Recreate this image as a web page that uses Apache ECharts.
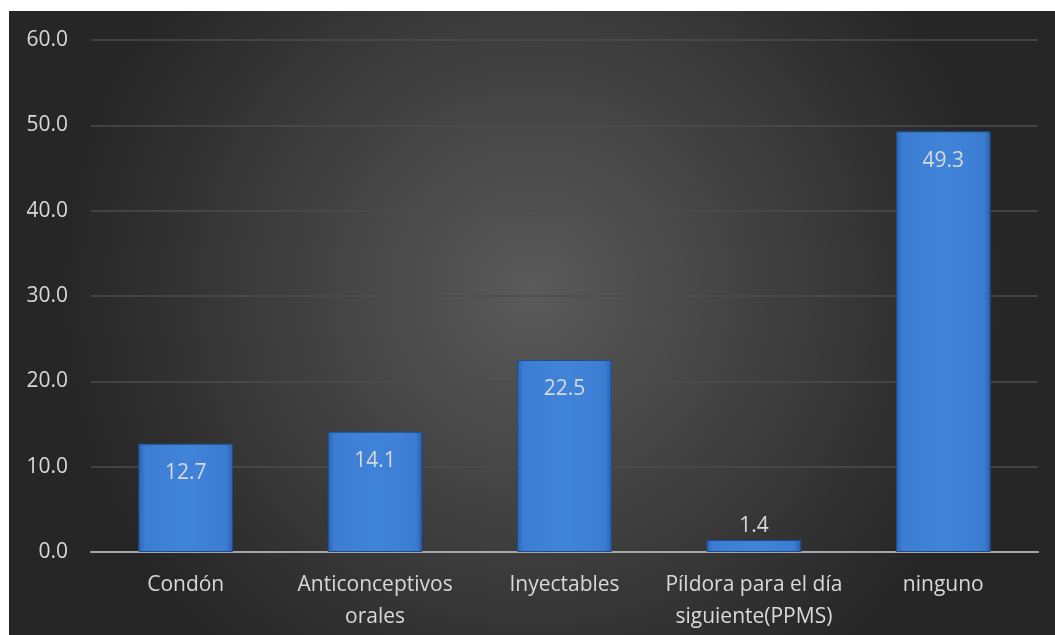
<!DOCTYPE html>
<html><head><meta charset="utf-8">
<script src="https://cdn.jsdelivr.net/npm/echarts@6/dist/echarts.min.js"></script>
<style>
html,body{margin:0;padding:0;background:#fff;}
#c{position:absolute;left:9px;top:11px;width:1046px;height:624px;}
</style></head><body>
<div id="c"></div>
<script>
const categories = ["Condón", "Anticonceptivos\norales", "Inyectables", "Píldora para el día\nsiguiente(PPMS)", "ninguno"];
const values = [12.7, 14.1, 22.5, 1.4, 49.3];
const yTicks = [0, 10, 20, 30, 40, 50, 60];

const chart = echarts.init(document.getElementById('c'));
const font = 'Open Sans, Liberation Sans, sans-serif';
const barColor = new echarts.graphic.LinearGradient(0,0,1,0,[
  {offset:0,color:'#2c65b3'},{offset:0.07,color:'#3b7dd3'},{offset:0.5,color:'#4084d9'},{offset:0.93,color:'#3b7dd3'},{offset:1,color:'#2a5ea8'}]);
chart.setOption({
  backgroundColor: new echarts.graphic.RadialGradient(0.5,0.45,0.75,[
    {offset:0,color:'#5a5a5a'},{offset:1,color:'#262626'}]),
  grid:{left:82,right:17,top:29,bottom:83},
  xAxis:{type:'category',data:categories,
    axisLine:{lineStyle:{color:'#a6a6a6',width:2}},axisTick:{show:false},
    axisLabel:{color:'#d9d9d9',fontSize:21,fontFamily:font,margin:17,lineHeight:32,interval:0}},
  yAxis:{type:'value',min:yTicks[0],max:yTicks[yTicks.length-1],interval:10,
    axisLine:{show:false},axisTick:{show:false},
    splitLine:{lineStyle:{color:'#4d4d4d',width:1.5}},
    axisLabel:{color:'#d9d9d9',fontSize:21,fontFamily:font,margin:23,formatter:v=>v.toFixed(1)}},
  series:[{type:'bar',barWidth:'50%',
    data:values.map(v=>({value:v,label: v<5?{position:'top',distance:4}:{}})),
    itemStyle:{color:barColor,borderColor:'#1f4c8a',borderWidth:1},
    label:{show:true,position:'insideTop',distance:19,color:'#d9d9d9',fontSize:21,fontFamily:font,formatter:p=>p.value.toFixed(1)}}]
});
</script></body></html>
